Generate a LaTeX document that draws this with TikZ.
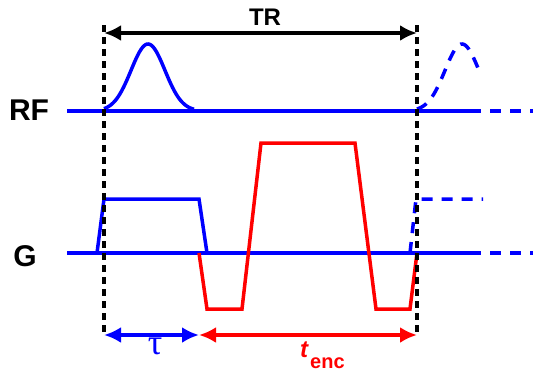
\documentclass[tikz,border=0pt]{standalone}
\usepackage{fontspec}
\setmainfont{Liberation Sans}
\newfontfamily\greekfont{Liberation Serif}
\usepackage{tikz}
\usetikzlibrary{arrows.meta, positioning, calc}

\begin{document}
\begin{tikzpicture}[x=1pt, y=-1pt,
		rfline/.style={line width=3.5pt, blue},
		gradline/.style={line width=3.5pt, red, line join=miter},
		nextrep/.style={line width=3.5pt, blue, dash pattern=on 11pt off 9pt},
		marker/.style={line width=3.5pt, black, dash pattern=on 7pt off 5pt},
		span/.style={line width=3.5pt, {Latex[length=17pt,width=16pt]}-{Latex[length=17pt,width=16pt]}},
		chan/.style={font=\bfseries\fontsize{30}{30}\selectfont}]
		\useasboundingbox (0,0) rectangle (533,372);
		
		% Time markers
		\coordinate (trL) at (104,33);
		\coordinate (trR) at (417,33);
		\coordinate (topL) at (104,25);
		\coordinate (topR) at (417,25);
		\coordinate (botL) at (104,335);
		\coordinate (botR) at (417,335);
		\coordinate (botM) at (199,335);
		
		% Channel labels
		\node[chan] (rf) at (29,110) {RF};
		\node[chan] (g) at (25,256) {G};
		\node[font=\bfseries\fontsize{24}{24}\selectfont] (tr) at (265,17) {TR};
		
		% RF channel
		\draw[rfline] (67,111) -- (470,111);
		\draw[nextrep] (470,111) -- (533,111);
		\draw[rfline, domain=104:194, samples=60, smooth]
		plot (\x, {111-67*exp(-((\x-148)/24)^2)});
		\draw[nextrep, domain=417:478, samples=40, smooth]
		plot (\x, {111-67*exp(-((\x-462)/24)^2)});
		
		% Gradient channel
		\draw[rfline] (67,253) -- (470,253);
		\draw[nextrep] (470,253) -- (533,253);
		\draw[rfline, line join=miter] (97,253) -- (104,199) -- (199,199) -- (207,253);
		\draw[nextrep] (410,253) -- (416,199) -- (483,199);
		\draw[gradline] (199,253) -- (207,309) -- (242,309) -- (261,143) -- (355,143)
		-- (376,309) -- (410,309) -- (417,253);
		
		% Dashed markers
		\draw[marker] (topL) -- (botL);
		\draw[marker] (topR) -- (botR);
		
		% Spans
		\draw[span] (trL) -- (trR);
		\draw[span, blue] (botL) -- (botM);
		\draw[span, red] (botM) -- (botR);
		\node[blue, font=\greekfont\fontsize{36}{36}\selectfont] (tau) at (155,346) {τ};
		\node[red, anchor=base west, inner sep=0pt] (tenc) at (300,357)
		{\fontsize{24}{24}\selectfont\bfseries\itshape t\hspace{2pt}\raisebox{-11pt}{\fontsize{20}{20}\selectfont\upshape enc}};
	\end{tikzpicture}
\end{document}
